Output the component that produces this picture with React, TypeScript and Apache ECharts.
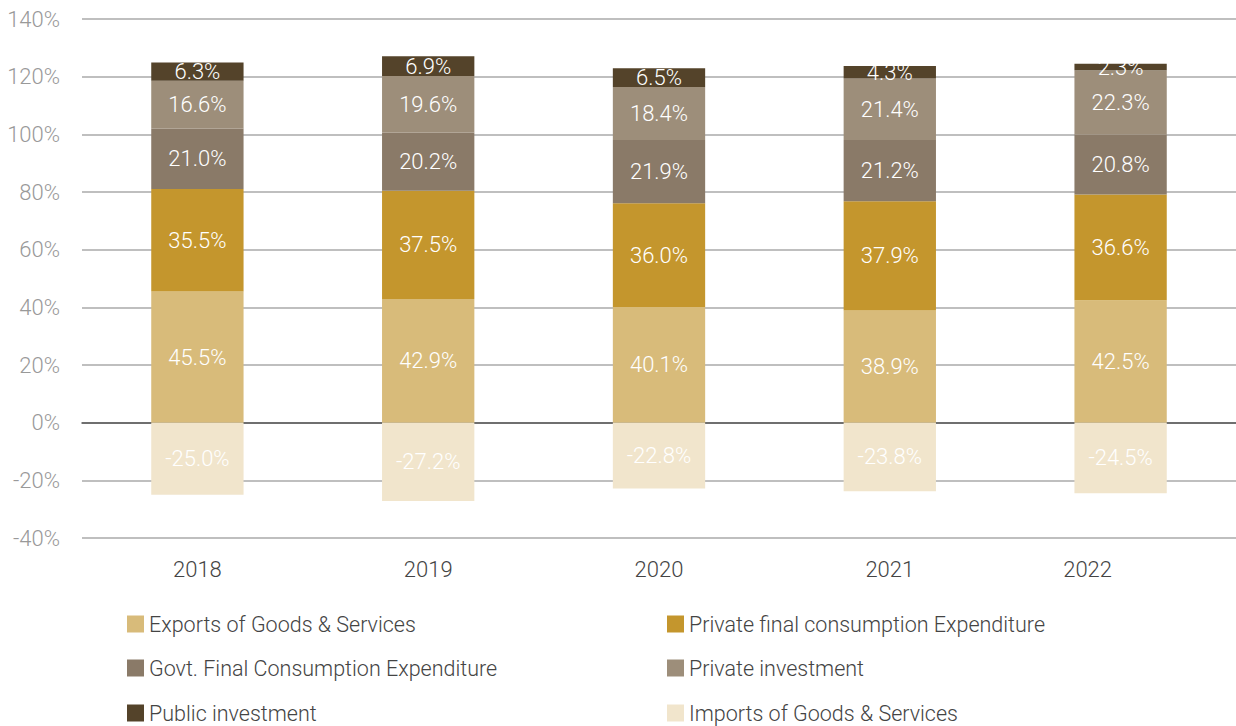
import React, { useEffect, useRef } from "react";
import * as echarts from "echarts";

const years = ["2018", "2019", "2020", "2021", "2022"];
const exportsGS = [45.5, 42.9, 40.1, 38.9, 42.5];
const privateConsumption = [35.5, 37.5, 36.0, 37.9, 36.6];
const govtConsumption = [21.0, 20.2, 21.9, 21.2, 20.8];
const privateInvestment = [16.6, 19.6, 18.4, 21.4, 22.3];
const publicInvestment = [6.3, 6.9, 6.5, 4.3, 2.3];
const importsGS = [-25.0, -27.2, -22.8, -23.8, -24.5];

const seriesDefs = [
  { name: "Exports of Goods & Services", data: exportsGS, color: "#D8BB7A" },
  { name: "Private final consumption Expenditure", data: privateConsumption, color: "#C4962D" },
  { name: "Govt. Final Consumption Expenditure", data: govtConsumption, color: "#8A7A68" },
  { name: "Private investment", data: privateInvestment, color: "#9D8E7A" },
  { name: "Public investment", data: publicInvestment, color: "#54432A" },
  { name: "Imports of Goods & Services", data: importsGS, color: "#F1E5CC" },
];

const legendPos = [
  { left: 127, top: 613 },
  { left: 667, top: 613 },
  { left: 127, top: 657 },
  { left: 667, top: 657 },
  { left: 127, top: 702 },
  { left: 667, top: 702 },
];

const FONT = "Roboto";

export default function App() {
  const ref = useRef<HTMLDivElement>(null);
  useEffect(() => {
    if (!ref.current) return;
    const chart = echarts.init(ref.current, null, { renderer: "svg" });
    chart.setOption({
      animation: false,
      textStyle: { fontFamily: FONT },
      grid: { left: 82, right: 0, top: 19, bottom: 726 - 538, containLabel: false },
      legend: seriesDefs.map((s, i) => ({
        data: [s.name],
        left: legendPos[i].left,
        top: legendPos[i].top,
        padding: 0,
        itemWidth: 17,
        itemHeight: 17,
        itemGap: 6,
        icon: "rect",
        selectedMode: false,
        textStyle: { fontFamily: FONT, fontWeight: 300, fontSize: 21.5, color: "#444" },
      })),
      xAxis: {
        type: "category",
        data: years.map((y, i) =>
          i === years.length - 1 ? { value: y, textStyle: { padding: [0, 66, 0, 0] } } : y
        ),
        axisTick: { show: false },
        axisLine: { show: true, onZero: true, lineStyle: { color: "#555", width: 1.5 } },
        axisLabel: {
          fontFamily: FONT,
          fontWeight: 300,
          fontSize: 22,
          color: "#444",
          margin: 20,
        },
        position: "bottom",
      },
      yAxis: {
        type: "value",
        min: -40,
        max: 140,
        interval: 20,
        axisLine: { show: false },
        axisTick: { show: false },
        splitLine: { lineStyle: { color: "#aaa", width: 1.5 } },
        axisLabel: {
          fontFamily: FONT,
          fontWeight: 300,
          fontSize: 22,
          color: "#999",
          margin: 22,
          formatter: (v: number) => `${v}%`,
        },
      },
      series: seriesDefs.map((s) => ({
        name: s.name,
        type: "bar",
        stack: "total",
        barWidth: "40%",
        data: s.data,
        itemStyle: { color: s.color },
        label: {
          show: true,
          position: "inside",
          fontFamily: FONT,
          fontWeight: 300,
          fontSize: 22,
          color: "#fff",
          formatter: (p: any) => `${Number(p.value).toFixed(1)}%`,
        },
      })),
    });
    return () => chart.dispose();
  }, []);
  return (
    <div
      ref={ref}
      style={{ position: "absolute", left: 0, top: 0, width: 1236, height: 726, background: "#fff" }}
    />
  );
}
